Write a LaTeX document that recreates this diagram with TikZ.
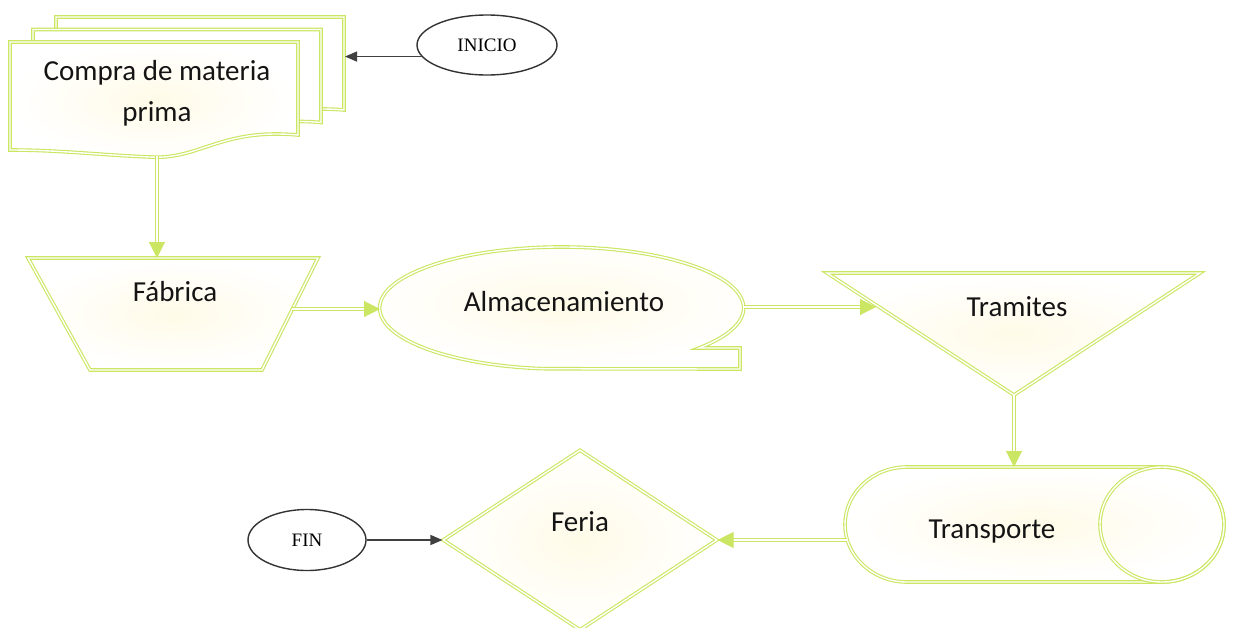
\documentclass[tikz,border=0pt]{standalone}
\usepackage{fontspec}
\setmainfont{Carlito}
\newfontfamily\termfont{Liberation Serif}
\usetikzlibrary{arrows.meta,shapes.geometric}
\definecolor{flowgreen}{RGB}{202,230,98}
\definecolor{glow}{RGB}{255,251,232}

\tikzset{
  outline/.style={draw=flowgreen, double=white, double distance=0.7pt, line width=0.55pt},
  box/.style={outline, inner color=glow, outer color=white},
  flow/.style={outline, -{Triangle[length=8pt,width=8pt]}},
  term/.style={draw=black!75, line width=0.7pt, -{Triangle[length=6pt,width=5pt]}},
  boxtext/.style={font=\fontsize{14.5}{20.5}\selectfont, align=center, text=black!92},
  endnode/.style={ellipse, draw=black!80, line width=0.7pt, inner sep=0pt,
    font=\termfont\fontsize{9.5}{11}\selectfont}
}

\begin{document}
\begin{tikzpicture}[x=0.5pt, y=-0.5pt]
\useasboundingbox (0,0) rectangle (1237,627);

% compra de materia prima (stack of documents)
\foreach \s in {2,1}{
  \begin{scope}[shift={(23*\s,-12.5*\s)}]
    \path[outline, fill=white] (10,42) -- (298,42) -- (298,135)
      .. controls (220,128) and (200,160) .. (150,157)
      .. controls (100,155) and (60,150) .. (10,150) -- cycle;
  \end{scope}
}
\path[box] (10,42) -- (298,42) -- (298,135)
  .. controls (220,128) and (200,160) .. (150,157)
  .. controls (100,155) and (60,150) .. (10,150) -- cycle;
\node[boxtext] (compra) at (157,93) {Compra de materia\\prima};
\coordinate (compraS) at (157,156);
\coordinate (compraE) at (345,55);

\node[endnode, minimum width=70pt, minimum height=30pt] (inicio) at (487,45) {INICIO};

% fabrica
\path[box] (28,258) -- (318,258) -- (262,370) -- (90,370) -- cycle;
\node[boxtext] (fab) at (175,292) {Fábrica};
\coordinate (fabN) at (157,258);
\coordinate (fabE) at (292,309);

% almacenamiento
\path[box] (699,348) arc[start angle=41, end angle=-265, x radius=182, y radius=61]
  -- (740,369) -- (740,348) -- cycle;
\node[boxtext] (alm) at (564,302) {Almacenamiento};
\coordinate (almW) at (380,309);
\coordinate (almE) at (744,307);

% tramites
\path[box] (827,273) -- (1200,273) -- (1014,395) -- cycle;
\node[boxtext] (tram) at (1017,307) {Tramites};
\coordinate (tramW) at (876,307);
\coordinate (tramS) at (1014,395);

% transporte
\path[box] (907,467) -- (1162,467) arc[start angle=-90, end angle=90, x radius=62, y radius=57.5]
  -- (907,582) arc[start angle=90, end angle=270, x radius=62, y radius=57.5] -- cycle;
\draw[outline] (1162,524.5) ellipse [x radius=62, y radius=57.5];
\node[boxtext] (trans) at (992,532) {Transporte};
\coordinate (transN) at (1014,467);
\coordinate (transW) at (847,540);

% feria
\node[diamond, box, minimum width=137pt, minimum height=90pt, inner sep=0pt] (feria) at (580,540) {};
\node[boxtext] (feriatxt) at (580,522) {Feria};

\node[endnode, minimum width=59pt, minimum height=30.5pt] (fin) at (307,540) {FIN};

% connectors
\draw[flow] (compraS) -- (fabN);
\draw[flow] (fabE) -- (almW);
\draw[flow] (almE) -- (tramW);
\draw[flow] (tramS) -- (transN);
\draw[flow] (transW) -- (feria.east);
\draw[term] (inicio.190) -- (inicio.190 -| compraE);
\draw[term] (fin.east) -- (feria.west);

\end{tikzpicture}
\end{document}
